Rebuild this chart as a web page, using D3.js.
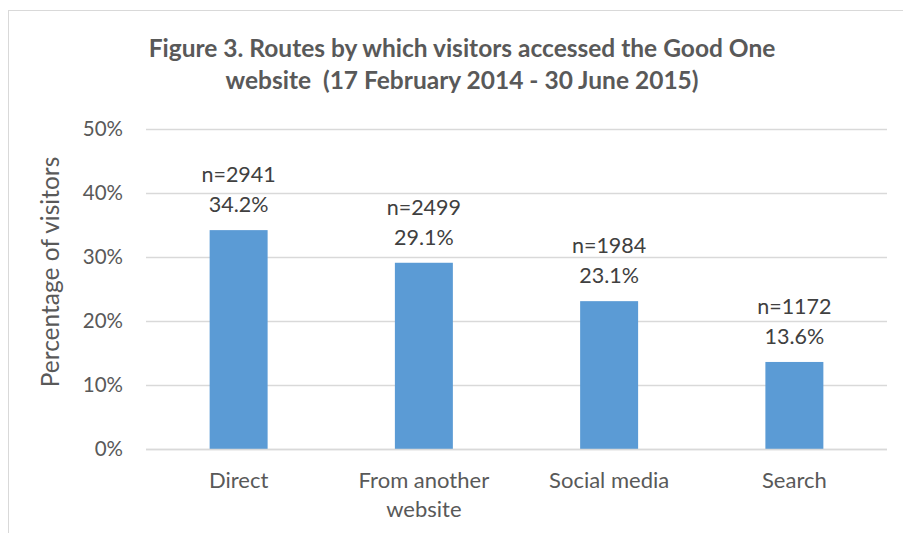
<!DOCTYPE html>
<html>
<head>
<meta charset="utf-8">
<script src="https://cdn.jsdelivr.net/npm/d3@7"></script>
<style>
  body { margin: 0; background: #fff; }
  text { font-family: Lato, "Open Sans", sans-serif; }
</style>
</head>
<body>
<div id="chart"></div>
<script>
// data
var categories = ["Direct", "From another website", "Social media", "Search"];
var percentages = [34.2, 29.1, 23.1, 13.6];
var counts = [2941, 2499, 1984, 1172];
var yTicks = [0, 10, 20, 30, 40, 50];
var titleLines = ["Figure 3. Routes by which visitors accessed the Good One",
                  "website  (17 February 2014 - 30 June 2015)"];
var categoryLines = [["Direct"], ["From another", "website"], ["Social media"], ["Search"]];

var width = 903, height = 533;
var plot = {left: 146, right: 887, top: 129, bottom: 449};

var svg = d3.select("#chart").append("svg")
    .attr("width", width)
    .attr("height", height);

// chart frame (cut off on right and bottom like the reference)
svg.append("rect")
    .attr("x", 8.5).attr("y", 10.5)
    .attr("width", 1000).attr("height", 1000)
    .attr("fill", "none")
    .attr("stroke", "#d9d9d9");

var x = d3.scaleBand()
    .domain(categories)
    .range([plot.left, plot.right])
    .paddingInner(0.687)
    .paddingOuter(0.3435);

var y = d3.scaleLinear()
    .domain([0, 50])
    .range([plot.bottom, plot.top]);

// gridlines
svg.append("g").selectAll("line")
    .data(yTicks)
    .join("line")
      .attr("x1", plot.left).attr("x2", plot.right)
      .attr("y1", function(d){ return Math.round(y(d)) + 0.5; })
      .attr("y2", function(d){ return Math.round(y(d)) + 0.5; })
      .attr("stroke", "#d9d9d9")
      .attr("stroke-width", 1.3);

// y axis labels
var yAxis = d3.axisLeft(y).tickValues(yTicks).tickSize(0).tickPadding(0)
    .tickFormat(function(d){ return d + "%"; });
var gy = svg.append("g").attr("transform", "translate(123,0)").call(yAxis);
gy.select(".domain").remove();
gy.selectAll("text")
    .style("font-family", "Lato, sans-serif")
    .style("font-size", "20.5px")
    .attr("fill", "#595959");

// y axis title
svg.append("text")
    .attr("transform", "translate(59,272) rotate(-90)")
    .attr("text-anchor", "middle")
    .style("font-size", "24.5px")
    .attr("fill", "#595959")
    .text("Percentage of visitors");

// bars
svg.append("g").selectAll("rect")
    .data(categories)
    .join("rect")
      .attr("x", function(d){ return x(d); })
      .attr("width", x.bandwidth())
      .attr("y", function(d, i){ return y(percentages[i]); })
      .attr("height", function(d, i){ return y(0) - y(percentages[i]); })
      .attr("fill", "#5b9bd5");

// redraw baseline on top of bars
svg.append("line")
    .attr("x1", plot.left).attr("x2", plot.right)
    .attr("y1", Math.round(y(0)) + 0.5).attr("y2", Math.round(y(0)) + 0.5)
    .attr("stroke", "#d9d9d9").attr("stroke-width", 1.3);

// data labels
var labels = svg.append("g").selectAll("text")
    .data(categories)
    .join("text")
      .attr("x", function(d){ return x(d) + x.bandwidth() / 2; })
      .attr("y", function(d, i){ return y(percentages[i]) - 48; })
      .attr("text-anchor", "middle")
      .style("font-size", "21.5px")
      .attr("fill", "#404040");
labels.append("tspan").text(function(d, i){ return "n=" + counts[i]; });
labels.append("tspan")
    .attr("x", function(d){ return x(d) + x.bandwidth() / 2; })
    .attr("dy", 30)
    .text(function(d, i){ return percentages[i].toFixed(1) + "%"; });

// category labels
var cats = svg.append("g").selectAll("text")
    .data(categories)
    .join("text")
      .attr("x", function(d){ return x(d) + x.bandwidth() / 2; })
      .attr("y", 488)
      .attr("text-anchor", "middle")
      .style("font-size", "22px")
      .attr("fill", "#595959");
cats.selectAll("tspan")
    .data(function(d, i){ return categoryLines[i]; })
    .join("tspan")
      .attr("x", function(){ return this.parentNode.getAttribute("x"); })
      .attr("dy", function(d, i){ return i == 0 ? 0 : 29; })
      .text(function(d){ return d; });

// title
svg.append("g").selectAll("text")
    .data(titleLines)
    .join("text")
      .attr("x", 462)
      .attr("y", function(d, i){ return 57 + i * 32; })
      .attr("text-anchor", "middle")
      .attr("xml:space", "preserve")
      .style("white-space", "pre")
      .style("font-size", "24.5px")
      .style("font-weight", "bold")
      .attr("fill", "#595959")
      .text(function(d){ return d; });
</script>
</body>
</html>
